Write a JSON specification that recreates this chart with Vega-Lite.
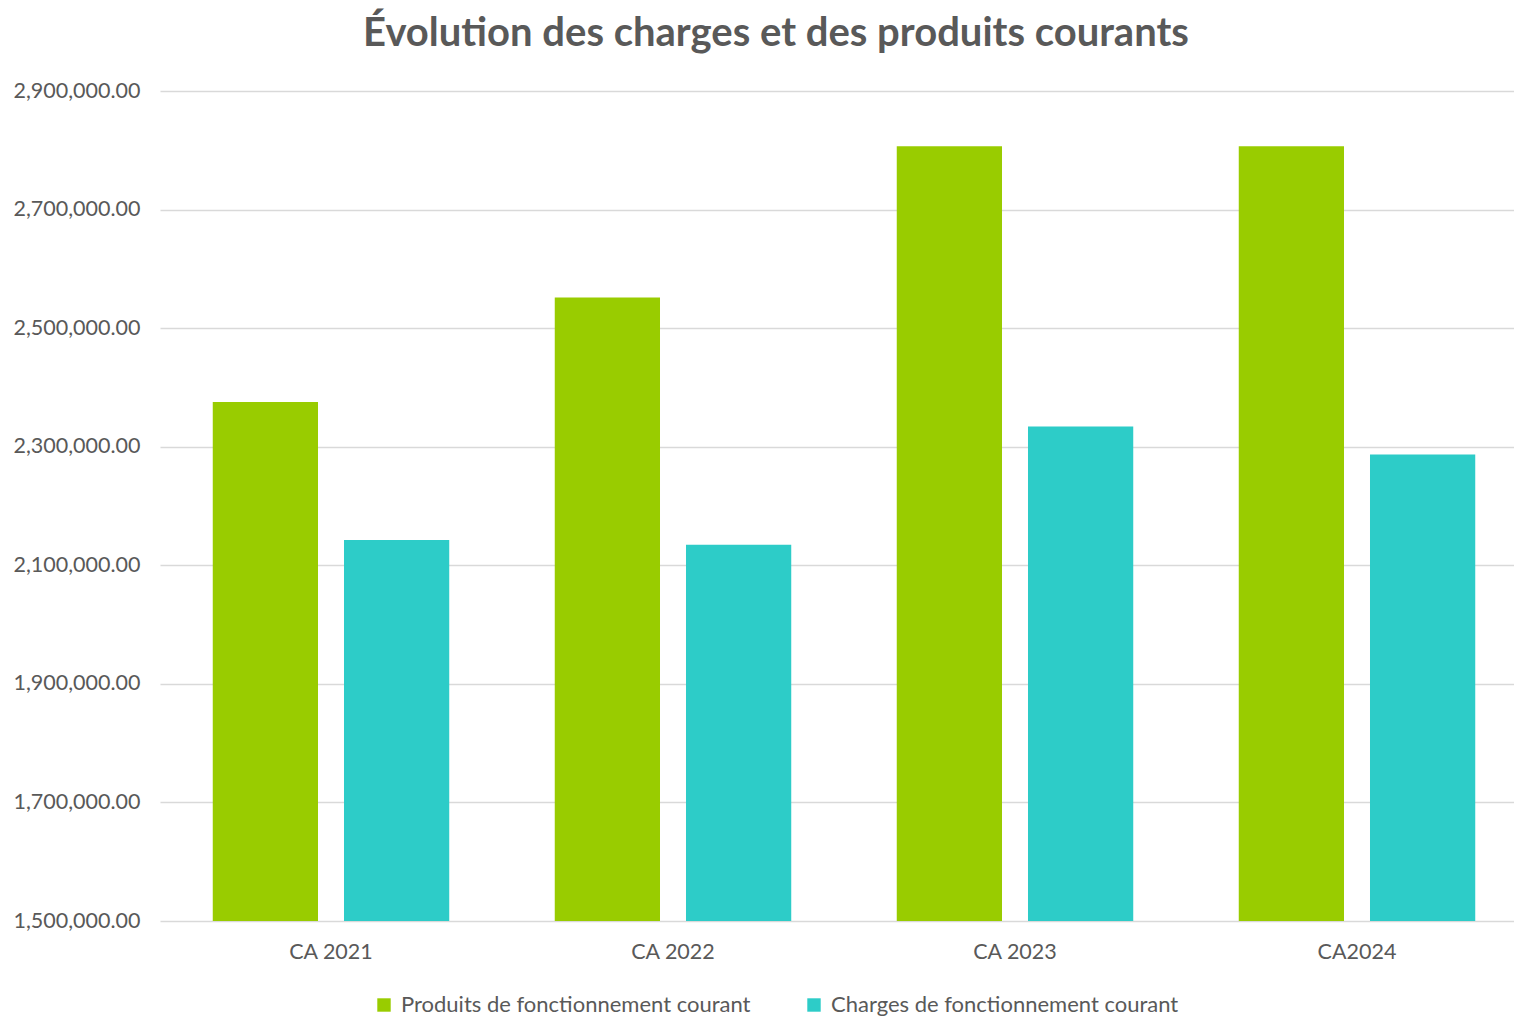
{
  "$schema": "https://vega.github.io/schema/vega-lite/v6.json",
  "autosize": "none",
  "padding": {"left": 160, "top": 91, "right": 0, "bottom": 96},
  "width": 1354,
  "height": 830,
  "background": "white",
  "title": {
    "text": "Évolution des charges et des produits courants",
    "font": "Lato",
    "fontSize": 40,
    "fontWeight": "bold",
    "color": "#595959",
    "anchor": "middle",
    "dx": -61,
    "offset": 26
  },
  "config": {
    "view": {"stroke": null},
    "font": "Lato"
  },
  "data": {
    "values": [
      {"annee": "CA 2021", "serie": "Produits de fonctionnement courant", "valeur": 2375400},
      {"annee": "CA 2021", "serie": "Charges de fonctionnement courant", "valeur": 2142700},
      {"annee": "CA 2022", "serie": "Produits de fonctionnement courant", "valeur": 2551800},
      {"annee": "CA 2022", "serie": "Charges de fonctionnement courant", "valeur": 2134700},
      {"annee": "CA 2023", "serie": "Produits de fonctionnement courant", "valeur": 2806700},
      {"annee": "CA 2023", "serie": "Charges de fonctionnement courant", "valeur": 2334200},
      {"annee": "CA2024", "serie": "Produits de fonctionnement courant", "valeur": 2806700},
      {"annee": "CA2024", "serie": "Charges de fonctionnement courant", "valeur": 2287000}
    ]
  },
  "mark": {"type": "bar", "clip": true},
  "encoding": {
    "x": {
      "field": "annee",
      "type": "nominal",
      "sort": null,
      "scale": {"range": [0, 1368], "paddingInner": 0, "paddingOuter": 0},
      "axis": {
        "title": null,
        "labelAngle": 0,
        "labelFontSize": 21.5,
        "labelColor": "#595959",
        "labelFont": "Lato",
        "ticks": false,
        "domain": false,
        "labelPadding": 20
      }
    },
    "xOffset": {
      "field": "serie",
      "type": "nominal",
      "sort": ["Produits de fonctionnement courant", "Charges de fonctionnement courant"],
      "scale": {"paddingInner": 0.198, "paddingOuter": 0.402}
    },
    "y": {
      "field": "valeur",
      "type": "quantitative",
      "scale": {"domain": [1500000, 2900000], "nice": false, "zero": false},
      "axis": {
        "title": null,
        "values": [1500000, 1700000, 1900000, 2100000, 2300000, 2500000, 2700000, 2900000],
        "format": ",.2f",
        "labelFontSize": 21.5,
        "labelColor": "#595959",
        "labelFont": "Lato",
        "ticks": false,
        "domain": false,
        "labelPadding": 20,
        "grid": true,
        "gridColor": "#d9d9d9",
        "gridWidth": 1.5
      }
    },
    "color": {
      "field": "serie",
      "type": "nominal",
      "scale": {
        "domain": ["Produits de fonctionnement courant", "Charges de fonctionnement courant"],
        "range": ["#99cc00", "#2dccc8"]
      },
      "legend": {
        "title": null,
        "orient": "none",
        "direction": "horizontal",
        "legendX": 213,
        "legendY": 903,
        "symbolType": "square",
        "symbolSize": 180,
        "symbolStrokeWidth": 0,
        "labelFontSize": 22,
        "labelColor": "#595959",
        "labelFont": "Lato",
        "columnPadding": 52,
        "labelOffset": 6,
        "labelLimit": 500
      }
    }
  }
}
